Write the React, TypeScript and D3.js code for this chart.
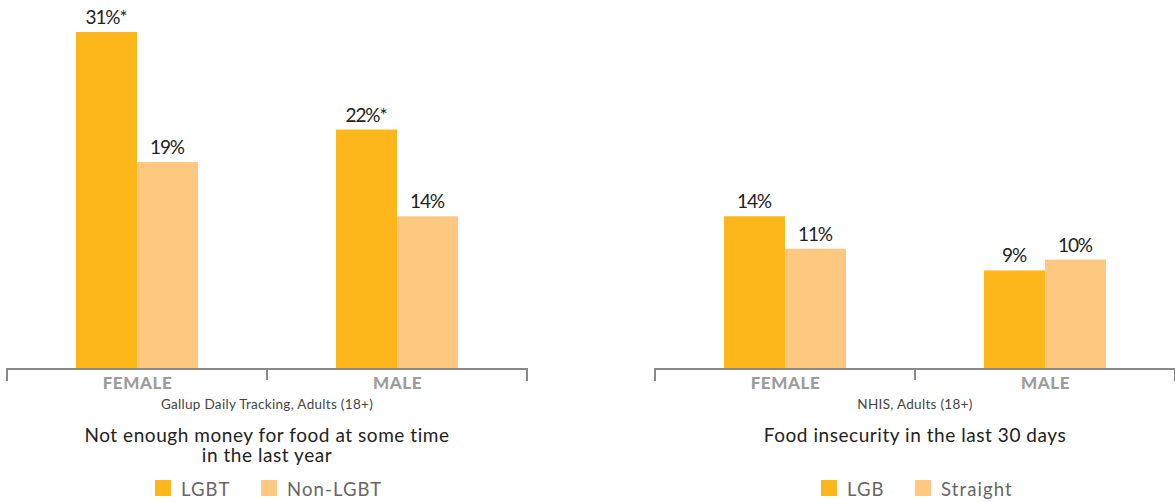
import React from "react";
import * as d3 from "d3";

const categories = ["FEMALE", "MALE"];
const leftSeries = ["LGBT", "Non-LGBT"];
const leftValues = [[31, 19], [22, 14]];
const leftLabels = [["31%*", "19%"], ["22%*", "14%"]];
const rightSeries = ["LGB", "Straight"];
const rightValues = [[14, 11], [9, 10]];
const rightLabels = [["14%", "11%"], ["9%", "10%"]];
const leftSource = "Gallup Daily Tracking, Adults (18+)";
const rightSource = "NHIS, Adults (18+)";
const leftTitle = ["Not enough money for food at some time", "in the last year"];
const rightTitle = ["Food insecurity in the last 30 days"];
const colors = ["#FDB71A", "#FEC881"];

const W = 1175, H = 502;
const baseY = 368;
const FONT = "Lato, 'Open Sans', sans-serif";

const y = d3.scaleLinear().domain([0, 31]).range([baseY, 32]);

function Panel({ x0, series, values, labels, source, title, legendX }: any) {
  const x = d3.scaleBand<string>().domain(categories).range([x0, x0 + 520]);
  const inner = d3.scaleBand<number>().domain([0, 1]).range([0, 122]);
  const tcx = x0 + 260;
  return (
    <g>
      {categories.map((c, i) => {
        const gx = (x(c) as number) + x.bandwidth() / 2 - 61;
        return (
          <g key={c}>
            {values[i].map((v: number, j: number) => (
              <g key={j}>
                <rect x={gx + (inner(j) as number)} y={y(v)} width={inner.bandwidth()} height={baseY - y(v)} fill={colors[j]} />
                <text x={gx + (inner(j) as number) + inner.bandwidth() / 2 - 0.5} y={y(v) - 8} textAnchor="middle" fontSize={19} letterSpacing={-1.1} fill="#222" fontFamily={FONT}>{labels[i][j]}</text>
              </g>
            ))}
            <text x={(x(c) as number) + x.bandwidth() / 2 + 0.5} y={389} textAnchor="middle" fontSize={17} fontWeight="900" letterSpacing={0.6} fill="#9c9c9c" fontFamily={FONT}>{c}</text>
          </g>
        );
      })}
      <path d={`M${x0},${baseY + 13}V${baseY + 1}H${x0 + 520}V${baseY + 13}M${x0 + 260},${baseY + 1}V${baseY + 12}`} fill="none" stroke="#8a8a8a" strokeWidth={2} />
      <text x={tcx} y={409} textAnchor="middle" fontSize={13.5} letterSpacing={0.3} fill="#444" fontFamily={FONT}>{source}</text>
      {title.map((t: string, k: number) => (
        <text key={k} x={tcx} y={442 + k * 20} textAnchor="middle" fontSize={19} letterSpacing={0.55} fill="#222" fontFamily={FONT}>{t}</text>
      ))}
      {series.map((s: string, j: number) => (
        <g key={s}>
          <rect x={legendX[j]} y={480} width={16} height={16} fill={colors[j]} />
          <text x={legendX[j] + 26} y={496} fontSize={18.5} letterSpacing={1.1} fill="#666" fontFamily={FONT}>{s}</text>
        </g>
      ))}
    </g>
  );
}

export default function App() {
  return (
    <svg width={W} height={H} style={{ position: "absolute", left: 0, top: 0, background: "#fff" }}>
      <Panel x0={7} series={leftSeries} values={leftValues} labels={leftLabels} source={leftSource} title={leftTitle} legendX={[155, 261]} />
      <Panel x0={655} series={rightSeries} values={rightValues} labels={rightLabels} source={rightSource} title={rightTitle} legendX={[821, 915]} />
    </svg>
  );
}
